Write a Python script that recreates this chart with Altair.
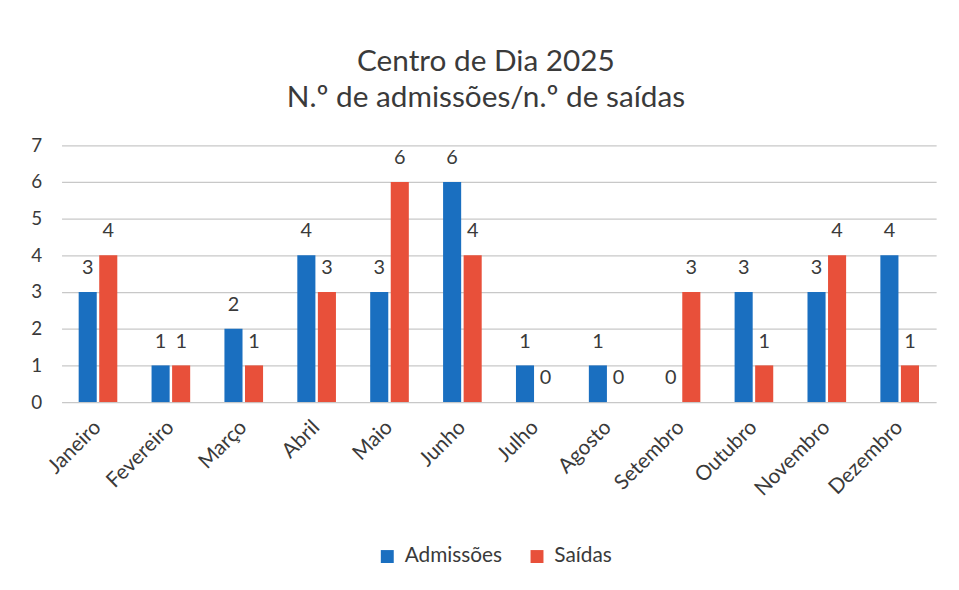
import altair as alt
import pandas as pd

months = ["Janeiro", "Fevereiro", "Março", "Abril", "Maio", "Junho",
          "Julho", "Agosto", "Setembro", "Outubro", "Novembro", "Dezembro"]
admissoes = [3, 1, 2, 4, 3, 6, 1, 1, 0, 3, 3, 4]
saidas = [4, 1, 1, 3, 6, 4, 0, 0, 3, 1, 4, 1]
series = ["Admissões", "Saídas"]
colors = ["#1a6fc0", "#e8503a"]
y_ticks = [0, 1, 2, 3, 4, 5, 6, 7]

rows = []
for m, a, s in zip(months, admissoes, saidas):
    rows.append({"Mês": m, "Série": series[0], "Valor": a})
    rows.append({"Mês": m, "Série": series[1], "Valor": s})
df = pd.DataFrame(rows)

FONT = "Lato"
TXT = "#3a3a3a"

x_enc = alt.X("Mês:N", sort=months,
              scale=alt.Scale(paddingInner=0.47, paddingOuter=0.235),
              axis=alt.Axis(title=None, labelAngle=-45, labelAlign="right",
                            labelBaseline="middle", labelFontSize=21,
                            labelPadding=22, labelColor=TXT,
                            labelFont=FONT, domain=False, ticks=False))
y_enc = alt.Y("Valor:Q", scale=alt.Scale(domain=[0, 7], nice=False),
              axis=alt.Axis(title=None, values=y_ticks, labelFontSize=19,
                            labelColor=TXT, labelFont=FONT, labelOverlap=False,
                            labelPadding=20, domain=False, ticks=False,
                            gridColor="#c8c8c8", gridWidth=1.3))
xoff = alt.XOffset("Série:N", sort=series, scale=alt.Scale(paddingInner=0.12))

base = alt.Chart(df).encode(x=x_enc, xOffset=xoff, y=y_enc)

bars = base.mark_bar().encode(
    color=alt.Color("Série:N", sort=series,
                    scale=alt.Scale(domain=series, range=colors),
                    legend=alt.Legend(title=None, orient="none", direction="horizontal",
                                      legendX=318, legendY=404, symbolType="square",
                                      symbolSize=170, symbolStrokeWidth=0,
                                      labelFontSize=21, labelFont=FONT,
                                      labelColor=TXT, columnPadding=24,
                                      labelOffset=7)),
)

labels = base.mark_text(dy=-14, fontSize=20, font=FONT, color=TXT,
                        baseline="bottom").encode(
    text=alt.Text("Valor:Q"),
)

chart = alt.layer(bars, labels).properties(
    width=882, height=259,
    title=alt.Title(["Centro de Dia 2025", "N.º de admissões/n.º de saídas"],
                    fontSize=30, font=FONT, fontWeight="normal", color=TXT,
                    anchor="middle", offset=24, lineHeight=36, dx=-13),
    autosize=alt.AutoSizeParams(type="none"),
    padding={"left": 54, "top": 136, "right": 15, "bottom": 180},
).configure_view(stroke=None)

chart.save("out.html", embed_options={"renderer": "svg", "actions": False})
